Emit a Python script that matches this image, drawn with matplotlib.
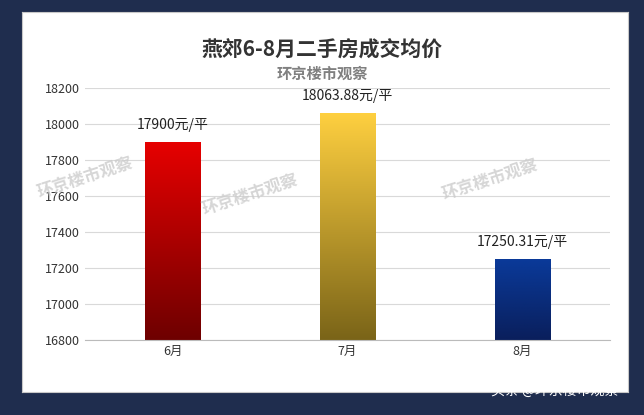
import numpy as np
import matplotlib.pyplot as plt
from matplotlib.patches import Rectangle
from matplotlib.colors import LinearSegmentedColormap

plt.rcParams['font.family'] = ['Noto Sans CJK SC', 'DejaVu Sans']

months = ['6月', '7月', '8月']
prices = [17900, 18063.88, 17250.31]
labels = ['17900元/平', '18063.88元/平', '17250.31元/平']
grads = [('#6e0000', '#e60000'), ('#7a6418', '#ffd040'), ('#0a1f5c', '#0a3a9a')]
ymin, ymax = 16800, 18200

fig = plt.figure(figsize=(6.44, 4.15), dpi=100)
fig.patch.set_facecolor('#1f2d4e')
# white panel as a background axes
bg = fig.add_axes([22/644, 1 - 392/415, 606/644, 380/415], zorder=-1)
bg.set_facecolor('white')
bg.set_xticks([])
bg.set_yticks([])
for s in bg.spines.values():
    s.set_color('#c8c8c8')

ax = fig.add_axes([85/644, 1 - 340/415, 525/644, 252/415])
ax.set_facecolor('none')
ax.set_xlim(-0.5, 2.5)
ax.set_ylim(ymin, ymax)
ax.set_yticks(np.arange(ymin, ymax + 1, 200))
ax.set_xticks(range(3))
ax.set_xticklabels(months)
ax.tick_params(length=0, labelsize=9, colors='#333333')
ax.yaxis.grid(True, color='#d9d9d9', linewidth=0.8)
ax.set_axisbelow(True)
for s in ['top', 'right', 'left']:
    ax.spines[s].set_visible(False)
ax.spines['bottom'].set_color('#bbbbbb')

w = 0.32
grad = np.linspace(0, 1, 256).reshape(-1, 1)
for i, (p, lab, (c0, c1)) in enumerate(zip(prices, labels, grads)):
    cmap = LinearSegmentedColormap.from_list('g%d' % i, [c0, c1])
    im = ax.imshow(grad, cmap=cmap, aspect='auto', origin='lower',
                   extent=[i - w/2, i + w/2, ymin, p], zorder=2)
    r = Rectangle((i - w/2, ymin), w, p - ymin, transform=ax.transData, facecolor='none')
    ax.add_patch(r)
    im.set_clip_path(r)
    ax.text(i, p + 55, lab, ha='center', va='bottom', fontsize=10, color='#222222')
ax.set_xlim(-0.5, 2.5)
ax.set_ylim(ymin, ymax)

fig.text(0.5, 1 - 50/415, '燕郊6-8月二手房成交均价', ha='center', va='center',
         fontsize=15, fontweight='bold', color='#333333')
fig.text(0.5, 1 - 74/415, '环京楼市观察', ha='center', va='center',
         fontsize=11, fontweight='bold', color='#808080')
for x, y in [(85, 178), (250, 195), (490, 180)]:
    fig.text(x/644, 1 - y/415, '环京楼市观察', ha='center', va='center', rotation=18,
             fontsize=12, fontweight='bold', color='#cccccc', alpha=0.8, zorder=5)
fig.text(555/644, 1 - 391/415, '头条 @环京楼市观察', ha='center', va='center',
         fontsize=10, color='white', zorder=5)

fig.savefig('out.png', dpi=100, facecolor=fig.get_facecolor())
